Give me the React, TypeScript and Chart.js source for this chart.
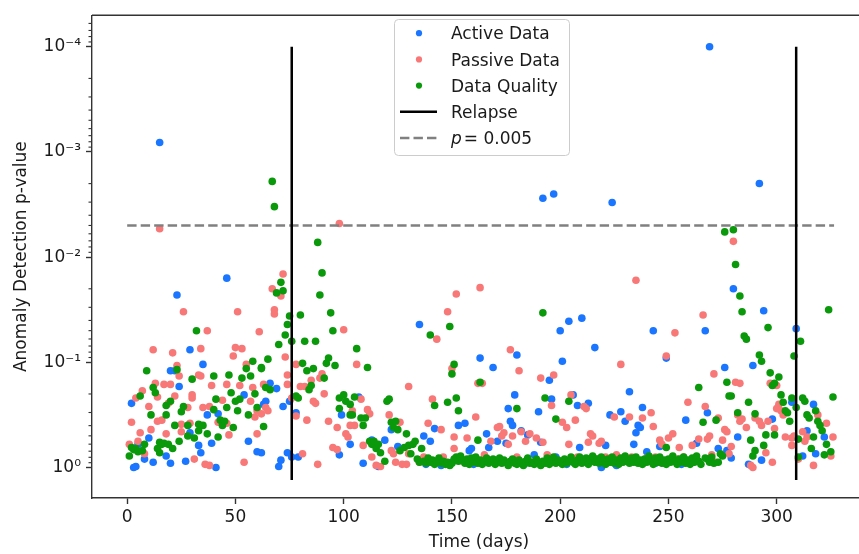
import React, { useEffect, useRef } from 'react';
import { Chart, registerables } from 'chart.js';

Chart.register(...registerables);

// ---------- axis / reference values ----------
const X_MIN = -16.25;
const X_MAX = 341.25;
// y axis is -log10(p): 0 -> p = 1 (bottom), 4 -> p = 1e-4 (top)
const Y_MIN = -0.29;
const Y_MAX = 4.3;
const X_TICKS = [0, 50, 100, 150, 200, 250, 300];
const Y_DECADES = [0, 1, 2, 3, 4];
const Y_TICK_LABELS = ['10\u2070', '10\u207B\u00B9', '10\u207B\u00B2', '10\u207B\u00B3', '10\u207B\u2074'];
const MINOR_MANTISSAS = [2, 3, 4, 5, 6, 7, 8, 9];
const RELAPSE_DAYS = [76, 309];
const RELAPSE_TOP = 4; // p = 1e-4
const RELAPSE_BOTTOM = -0.12;
const THRESHOLD_P = 0.005;
const THRESHOLD_DAYS = [0, 326.5];

// ---------- data: [day, -log10(p)] ----------
const ACTIVE: [number, number][] = [
  [2,0.61],[3,0.0],[4,0.01],[5,0.22],[8,0.08],[10,0.28],[12,0.05],[15,3.09],[18,0.11],[20,0.04],[20,0.92],[22,0.92],[23,1.64],[24,0.77],[27,0.06],[29,1.12],[29,0.33],[33,0.21],[34,0.14],[35,0.98],[37,0.5],[39,0.23],[41,0.0],[42,0.51],[46,1.8],[54,0.69],[56,0.25],[60,0.15],[62,0.14],[63,0.6],[64,0.63],[66,0.8],[69,0.75],[70,0.01],[71,0.07],[72,0.58],[74,0.14],[75,0.63],[76,0.1],[78,0.52],[79,0.1],
  [98,0.12],[99,0.5],[103,0.22],[107,0.67],[109,0.04],[113,0.26],[116,0.01],[119,0.26],[122,0.36],[125,0.2],
  [135,1.36],[137,0.3],[138,0.03],[140,0.25],[142,0.37],[145,0.02],[150,0.05],[153,0.4],[156,0.42],[158,0.16],[159,0.18],[160,0.03],[163,1.04],[166,0.32],[167,0.19],[169,0.95],[171,0.25],[173,0.06],[175,0.23],[176,0.56],[177,0.44],[178,0.4],[179,0.69],[180,1.07],[182,0.35],[184,0.04],[185,0.31],[188,0.12],[190,0.53],[191,0.24],[192,2.56],[195,0.83],[196,0.65],[197,2.6],[198,0.1],[200,1.3],[201,1.01],[203,0.03],[204,1.39],[206,0.69],[208,0.59],[209,0.19],[210,1.42],[212,0.06],[213,0.61],[216,1.14],[219,0.0],[221,0.21],[223,0.5],[224,2.52],[226,0.02],[228,0.53],[230,0.44],[232,0.72],[234,0.22],[235,0.33],[236,0.4],[237,0.38],[238,0.57],[240,0.15],[243,1.3],[244,0.04],[246,0.2],[249,1.04],[252,0.06],[256,0.03],[258,0.45],[261,0.05],[263,0.23],[267,1.3],[268,0.52],[269,4.0],
  [273,0.18],[276,0.95],[277,0.16],[279,0.09],[280,1.7],[282,0.29],[287,0.03],[289,0.97],[292,2.7],[293,0.07],[294,1.49],[298,0.46],[307,0.62],[309,1.32],[312,0.11],[314,0.35],[317,0.6],[318,0.13],[322,0.29]
];

const PASSIVE: [number, number][] = [
  [1,0.22],[2,0.43],[4,0.66],[5,0.25],[6,0.33],[7,0.73],[8,0.13],[10,0.58],[11,0.36],[12,1.12],[13,0.8],[14,0.67],[14,0.44],[15,2.27],[16,0.45],[17,0.79],[18,0.32],[19,0.61],[20,0.79],[21,1.09],[22,0.68],[23,0.97],[24,0.87],[25,0.34],[25,0.41],[26,1.48],[28,0.57],[29,0.42],[30,0.66],[30,0.69],[31,0.08],[33,0.88],[34,0.87],[34,1.13],[35,0.57],[36,0.03],[37,1.3],[38,0.02],[38,0.58],[39,0.78],[42,0.43],[44,0.64],[46,0.79],[46,0.42],[47,0.31],[49,1.06],[50,1.14],[51,1.48],[52,0.78],[53,1.13],[54,0.05],[55,0.98],[57,0.63],[58,0.76],[59,0.48],[60,0.54],[60,0.32],[61,1.29],[62,0.51],[63,0.79],[64,0.57],[65,0.54],[67,1.7],[68,1.5],[68,1.46],[71,1.63],[72,1.84],[73,1.05],[74,0.88],[74,0.79],[76,0.66],[78,0.98],[78,0.49],[80,0.77],[81,0.13],[82,0.77],[83,0.45],[85,0.83],[86,0.63],[87,0.61],[88,0.03],[89,0.85],[90,0.89],[91,0.7],[93,0.44],[95,0.19],[97,0.17],[97,0.38],[98,2.32],[100,1.31],[101,0.32],[102,0.29],[103,0.4],[104,0.54],[105,0.4],[106,0.98],[108,0.65],[109,0.21],[111,0.55],[112,0.51],[113,0.1],[115,0.02],[117,0.01],[121,0.5],[122,0.16],[123,0.13],[124,0.05],[126,0.43],[127,0.03],[129,0.03],[130,0.13],[130,0.77],
  [135,0.05],[137,0.1],[139,0.42],[141,0.65],[142,0.06],[143,1.22],[145,0.36],[146,0.1],[148,1.48],[150,0.94],[151,0.18],[151,0.29],[152,1.65],[155,0.06],[157,0.28],[159,0.05],[161,0.48],[162,0.8],[163,1.71],[164,0.8],[165,0.12],[168,0.25],[170,0.06],[171,0.38],[172,0.39],[173,0.3],[174,0.33],[176,0.22],[177,1.12],[178,0.3],[180,0.1],[181,0.92],[182,0.34],[184,0.25],[186,0.32],[187,0.05],[189,0.28],[191,0.85],[192,0.24],[194,0.12],[196,0.59],[197,0.88],[199,0.06],[201,0.43],[203,0.38],[204,0.22],[205,0.69],[207,0.45],[208,0.1],[211,0.58],[212,0.56],[213,0.24],[214,0.32],[215,0.3],[217,0.08],[218,0.23],[219,0.25],[221,0.1],[223,0.05],[225,0.48],[226,0.12],[228,0.98],[229,0.07],[232,0.48],[233,0.1],[235,1.78],[236,0.05],[238,0.47],[240,0.09],[242,0.52],[243,0.39],[244,0.1],[246,0.26],[247,0.22],[249,1.06],[250,0.28],[252,0.32],[253,1.28],[254,0.08],[255,0.19],[257,0.1],[259,0.62],[261,0.21],[262,0.06],[264,0.27],[266,1.45],[267,0.58],[268,0.27],[269,0.3],[270,0.12],[271,0.89],
  [272,0.05],[273,0.47],[275,0.26],[276,0.36],[277,0.34],[278,0.13],[279,0.2],[280,2.15],[281,0.81],[282,0.5],[283,0.8],[283,0.44],[284,0.46],[286,0.38],[288,0.02],[289,0.0],[290,0.47],[292,0.44],[293,0.4],[295,0.14],[296,0.44],[297,0.8],[298,0.05],[299,0.37],[300,0.78],[300,0.56],[301,0.6],[302,0.54],[303,0.5],[304,0.29],[307,0.28],[307,0.21],[308,0.3],[310,0.08],[312,0.34],[313,0.25],[314,0.29],[317,0.02],[319,0.5],[323,0.42],[325,0.11],[326,0.29]
];

const QUALITY: [number, number][] = [
  [1,0.11],[2,0.19],[3,0.17],[4,0.18],[5,0.15],[6,0.68],[7,0.16],[8,0.22],[9,0.92],[11,0.5],[12,0.76],[13,0.71],[14,0.18],[15,0.14],[15,0.24],[16,0.22],[17,0.23],[18,0.59],[18,0.5],[19,0.22],[20,0.63],[21,0.18],[22,0.4],[23,0.93],[24,0.25],[25,0.53],[26,0.58],[28,0.3],[28,0.4],[30,0.84],[31,0.28],[32,1.3],[33,0.41],[33,0.35],[35,0.4],[37,0.32],[40,0.55],[40,0.87],[41,0.65],[42,0.29],[43,0.45],[44,0.4],[45,0.44],[46,0.57],[47,0.88],[48,0.71],[49,0.38],[50,0.63],[51,0.54],[52,0.65],[53,0.85],[55,0.94],[56,0.5],[57,0.87],[58,1.01],[59,0.7],[60,0.57],[62,0.95],[62,0.94],[63,0.39],[64,0.76],[65,1.03],[66,0.74],[67,2.72],[68,2.48],[69,1.66],[70,1.17],[71,1.76],[72,1.68],[73,1.26],[74,1.36],[75,1.44],[76,1.2],
  [78,0.68],[79,0.66],[80,1.45],[81,0.99],[82,1.2],[83,0.92],[84,0.74],[85,0.78],[86,0.94],[87,1.2],[88,2.14],[89,1.64],[90,1.85],[91,0.85],[92,0.99],[93,1.04],[94,1.47],[95,1.3],[96,0.97],[98,0.66],[98,0.56],[100,0.69],[101,0.63],[103,0.6],[103,0.5],[104,0.5],[105,0.67],[106,1.13],[108,0.47],[109,0.4],[110,0.47],[111,0.95],[112,0.25],[113,0.22],[114,0.25],[115,0.18],[116,0.22],[117,0.14],[119,0.06],[120,0.63],[121,0.65],[122,0.43],[123,0.38],[124,0.44],[125,0.36],[126,0.16],[128,0.19],[129,0.32],[130,0.21],[131,0.13],[132,0.22],[133,0.25],
  [134,0.08],[135,0.05],[136,0.18],[137,0.06],[138,0.04],[139,0.09],[140,1.26],[140,0.05],[141,0.07],[142,0.59],[142,0.03],[143,0.06],[144,0.09],[145,0.04],[146,0.06],[147,0.03],[148,0.62],[148,0.05],[149,1.34],[149,0.02],[150,0.89],[150,0.04],[151,0.98],[151,0.08],[152,0.66],[152,0.1],[153,0.54],[153,0.06],[154,0.11],[155,0.07],[156,0.04],[157,0.08],[158,0.03],[159,0.09],[160,0.05],[161,0.1],[162,0.26],[162,0.04],[163,0.81],[163,0.07],[164,0.03],[165,0.06],[166,0.09],[167,0.04],[168,0.06],[169,0.08],[170,0.03],[171,0.05],[172,0.09],[173,0.04],[174,0.07],[175,0.05],[176,0.02],[177,0.06],[178,0.08],[179,0.04],[180,0.56],[180,0.03],[181,0.07],[182,0.05],[183,0.02],[184,0.06],[185,0.09],[186,0.04],[187,0.05],[188,0.03],[189,0.08],[190,0.05],[191,0.02],[192,1.47],[192,0.06],[193,0.66],[193,0.04],[194,0.09],[195,0.03],[196,0.06],[197,0.1],[198,0.46],[198,0.04],[199,0.07],[200,0.05],[201,0.03],[202,0.08],[203,0.04],[204,0.63],[204,0.06],[205,0.1],[206,0.05],[207,0.03],[208,0.07],[209,0.1],[210,0.04],[211,0.06],[212,0.09],[213,0.03],[214,0.07],[215,0.11],[216,0.05],[217,0.08],[218,0.04],[219,0.1],[220,0.06],[221,0.03],[222,0.08],[223,0.05],[224,0.1],[225,0.04],[226,0.07],[227,0.03],[228,0.09],[229,0.05],[230,0.11],[231,0.06],[232,0.04],[233,0.09],[234,0.05],[235,0.1],[236,0.04],[237,0.07],[238,0.03],[239,0.08],[240,0.05],[241,0.11],[242,0.06],[243,0.03],[244,0.09],[245,0.05],[246,0.1],[247,0.04],[248,0.07],[249,0.19],[249,0.03],[250,0.08],[251,0.05],[252,0.11],[253,0.06],[254,0.03],[255,0.08],[256,0.05],[257,0.1],[258,0.04],[259,0.07],[260,0.03],[261,0.09],[262,0.05],[263,0.11],[264,0.76],[264,0.06],[265,0.03],[266,0.43],[267,0.09],[268,0.08],[269,0.05],[270,0.1],[271,0.04],
  [272,0.45],[273,0.05],[274,0.13],[275,0.11],[276,2.24],[277,0.81],[278,0.68],[279,0.68],[280,2.26],[281,1.93],[282,0.52],[283,1.63],[284,1.48],[285,1.25],[286,1.22],[287,0.62],[288,0.26],[289,0.11],[290,0.16],[290,0.51],[292,1.07],[293,1.01],[294,0.21],[295,0.31],[296,1.33],[297,0.9],[298,0.78],[299,0.8],[299,0.31],[301,0.86],[302,0.69],[303,0.62],[304,0.54],[305,0.52],[306,0.44],[307,0.66],[308,1.06],[309,0.57],[310,0.27],[310,0.1],[311,1.2],[312,0.66],[313,0.63],[314,0.5],[315,0.47],[316,0.18],[317,0.29],[318,0.54],[319,0.44],[320,0.4],[321,0.35],[322,0.12],[323,0.22],[324,1.5],[325,0.15],[326,0.67]
];

// ---------- styling ----------
const FONT = "'DejaVu Sans', 'Liberation Sans', sans-serif";
const BLUE = '#1a75ff';
const PINK = '#f87878';
const GREEN = '#0a990a';
const AXIS = '#333333';
const TEXT = '#1a1a1a';
const CANVAS_W = 880;
const CANVAS_H = 554;

const toXY = (arr: [number, number][]) => arr.map(([x, y]) => ({ x, y }));

const decorPlugin = {
  id: 'decor',
  afterDraw(chart: any) {
    const { ctx, chartArea } = chart;
    const yScale = chart.scales.y;
    ctx.save();
    // top & right spines
    ctx.strokeStyle = AXIS;
    ctx.lineWidth = 1.4;
    ctx.beginPath();
    ctx.moveTo(chartArea.left, chartArea.top);
    ctx.lineTo(chartArea.right, chartArea.top);
    ctx.lineTo(chartArea.right, chartArea.bottom);
    ctx.stroke();
    // minor y ticks
    ctx.lineWidth = 1.1;
    for (let k = -1; k <= 4; k++) {
      for (const m of MINOR_MANTISSAS) {
        const v = k + 1 - Math.log10(m);
        if (v < Y_MIN || v > Y_MAX) continue;
        const py = yScale.getPixelForValue(v);
        ctx.beginPath();
        ctx.moveTo(chartArea.left - 3.5, py);
        ctx.lineTo(chartArea.left, py);
        ctx.stroke();
      }
    }
    // legend
    const bx = 394.5, by = 19.5, bw = 175, bh = 136;
    ctx.beginPath();
    ctx.roundRect(bx, by, bw, bh, 4);
    ctx.fillStyle = 'rgba(255,255,255,0.8)';
    ctx.fill();
    ctx.strokeStyle = '#cccccc';
    ctx.lineWidth = 1;
    ctx.stroke();
    const rows = [
      { kind: 'dot', color: BLUE, label: 'Active Data' },
      { kind: 'dot', color: PINK, label: 'Passive Data' },
      { kind: 'dot', color: GREEN, label: 'Data Quality' },
      { kind: 'line', color: '#000000', label: 'Relapse' },
      { kind: 'dash', color: '#808080', label: 'p = 0.005' },
    ];
    const textX = 451;
    rows.forEach((r, i) => {
      const cy = 33.2 + i * 26.2;
      if (r.kind === 'dot') {
        ctx.fillStyle = r.color;
        ctx.beginPath();
        ctx.arc(419, cy, 3.1, 0, Math.PI * 2);
        ctx.fill();
      } else {
        ctx.strokeStyle = r.color;
        ctx.lineWidth = 2.5;
        ctx.setLineDash(r.kind === 'dash' ? [9.4, 4.1] : []);
        ctx.beginPath();
        ctx.moveTo(400, cy);
        ctx.lineTo(437, cy);
        ctx.stroke();
        ctx.setLineDash([]);
      }
      ctx.fillStyle = TEXT;
      ctx.textBaseline = 'alphabetic';
      ctx.textAlign = 'left';
      if (r.kind === 'dash') {
        ctx.font = `italic 17px ${FONT}`;
        ctx.fillText('p', textX, cy + 6.2);
        const pw = ctx.measureText('p').width;
        ctx.font = `17px ${FONT}`;
        ctx.fillText('= 0.005', textX + pw + 2, cy + 6.2);
      } else {
        ctx.font = `17px ${FONT}`;
        ctx.fillText(r.label, textX, cy + 6.2);
      }
    });
    ctx.restore();
  },
};

export default function App() {
  const canvasRef = useRef<HTMLCanvasElement | null>(null);

  useEffect(() => {
    const canvas = canvasRef.current;
    if (!canvas) return;
    const thresholdY = -Math.log10(THRESHOLD_P);
    const scatterBase = { type: 'scatter' as const, showLine: false, pointBorderWidth: 0, pointRadius: 3.8, pointHoverRadius: 3.8 };
    const lineBase = { type: 'scatter' as const, showLine: true, pointRadius: 0, pointHoverRadius: 0, fill: false };

    const chart = new Chart(canvas, {
      type: 'scatter',
      data: {
        datasets: [
          ...RELAPSE_DAYS.map((d, i) => ({
            ...lineBase,
            label: i === 0 ? 'Relapse' : 'Relapse (2)',
            data: [{ x: d, y: RELAPSE_TOP }, { x: d, y: RELAPSE_BOTTOM }],
            borderColor: '#000000',
            borderWidth: 2.5,
            order: 0,
          })),
          {
            ...lineBase,
            label: 'p = 0.005',
            data: THRESHOLD_DAYS.map((d) => ({ x: d, y: thresholdY })),
            borderColor: '#808080',
            borderWidth: 2.5,
            borderDash: [9.4, 4.1],
            order: 0,
          },
          { ...scatterBase, label: 'Data Quality', data: toXY(QUALITY), backgroundColor: GREEN, pointBackgroundColor: GREEN, order: 1 },
          { ...scatterBase, label: 'Passive Data', data: toXY(PASSIVE), backgroundColor: PINK, pointBackgroundColor: PINK, order: 2 },
          { ...scatterBase, label: 'Active Data', data: toXY(ACTIVE), backgroundColor: BLUE, pointBackgroundColor: BLUE, order: 3 },
        ],
      },
      options: {
        responsive: false,
        animation: false,
        devicePixelRatio: 1,
        layout: { padding: { left: 0, top: 10, right: CANVAS_W - 866, bottom: 0 } },
        plugins: { legend: { display: false }, tooltip: { enabled: false }, title: { display: false } },
        events: [],
        scales: {
          x: {
            type: 'linear',
            min: X_MIN,
            max: X_MAX,
            afterBuildTicks: (s: any) => { s.ticks = X_TICKS.map((v) => ({ value: v })); },
            afterFit: (s: any) => { s.height = CANVAS_H - 498; },
            ticks: { font: { family: FONT, size: 17 }, color: TEXT, padding: 3, maxRotation: 0, autoSkip: false, callback: (v: any) => String(v) },
            grid: { drawOnChartArea: false, drawTicks: true, tickLength: 6, tickColor: AXIS, tickWidth: 1.4 },
            border: { display: true, color: AXIS, width: 1.4 },
            title: { display: true, text: 'Time (days)', font: { family: FONT, size: 17 }, color: TEXT, padding: { top: 0, bottom: 1 } },
          },
          y: {
            type: 'linear',
            min: Y_MIN,
            max: Y_MAX,
            afterBuildTicks: (s: any) => { s.ticks = Y_DECADES.map((v) => ({ value: v })); },
            afterFit: (s: any) => { s.width = 92; },
            ticks: {
              font: { family: FONT, size: 17 },
              color: TEXT,
              padding: 5,
              autoSkip: false,
              callback: (v: any) => {
                const idx = Y_DECADES.indexOf(Math.round(Number(v)));
                return idx >= 0 ? Y_TICK_LABELS[idx] : '';
              },
            },
            grid: { drawOnChartArea: false, drawTicks: true, tickLength: 6, tickColor: AXIS, tickWidth: 1.4 },
            border: { display: true, color: AXIS, width: 1.4 },
            title: { display: true, text: 'Anomaly Detection p-value', font: { family: FONT, size: 17 }, color: TEXT, padding: { top: 11, bottom: 0 } },
          },
        },
      },
      plugins: [decorPlugin],
    } as any);

    return () => chart.destroy();
  }, []);

  return (
    <div style={{ position: 'fixed', left: 0, top: 0, width: 859, height: 554, overflow: 'hidden', background: '#ffffff' }}>
      <canvas ref={canvasRef} width={CANVAS_W} height={CANVAS_H} style={{ width: CANVAS_W, height: CANVAS_H, display: 'block' }} />
    </div>
  );
}
